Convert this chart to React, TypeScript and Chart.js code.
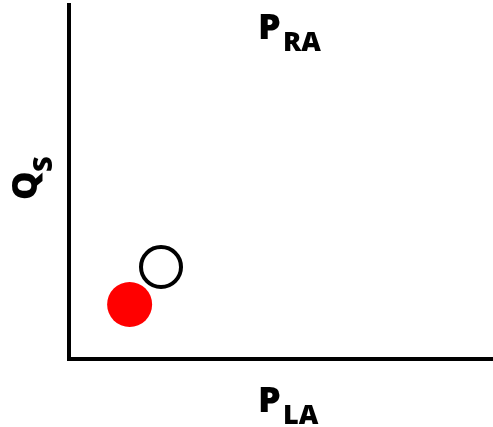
import React, { useEffect, useRef } from "react";
import { Chart, registerables } from "chart.js";

Chart.register(...registerables);

// Data (arbitrary units on both axes)
const X_RANGE = [0, 10];
const Y_RANGE = [0, 10];
const OPEN_POINT = [{ x: 2.17, y: 2.6 }];
const FILLED_POINT = [{ x: 1.43, y: 1.54 }];

// Labels: [main, subscript]
const TITLE_LABEL = ["P", "RA"];
const X_LABEL = ["P", "LA"];
const Y_LABEL = ["Q", "S"];

const FONT = '"Open Sans", "Liberation Sans", sans-serif';

function drawInk(ctx: CanvasRenderingContext2D, text: string, size: number, inkLeft: number, baseline: number) {
  ctx.font = `800 ${size}px ${FONT}`;
  ctx.textAlign = "left";
  ctx.textBaseline = "alphabetic";
  const m = ctx.measureText(text);
  ctx.fillText(text, inkLeft + m.actualBoundingBoxLeft, baseline);
}

const labelPlugin = {
  id: "subLabels",
  afterDraw(chart: any) {
    const ctx: CanvasRenderingContext2D = chart.ctx;
    ctx.save();
    ctx.fillStyle = "#000000";
    // Title P_RA
    drawInk(ctx, TITLE_LABEL[0], 36, 260, 39);
    drawInk(ctx, TITLE_LABEL[1], 27, 285, 51);
    // X label P_LA
    drawInk(ctx, X_LABEL[0], 36, 260, 412);
    drawInk(ctx, X_LABEL[1], 27, 285, 424);
    // Y label Q_S (rotated)
    ctx.save();
    ctx.rotate(-Math.PI / 2);
    drawInk(ctx, Y_LABEL[0], 36, -199, 37);
    drawInk(ctx, Y_LABEL[1], 27, -171, 52);
    ctx.restore();
    ctx.restore();
  },
};

export default function App() {
  const ref = useRef<HTMLCanvasElement | null>(null);

  useEffect(() => {
    if (!ref.current) return;
    const chart = new Chart(ref.current, {
      type: "scatter",
      data: {
        datasets: [
          {
            data: OPEN_POINT,
            pointBackgroundColor: "#ffffff",
            pointBorderColor: "#000000",
            pointBorderWidth: 4,
            pointRadius: 20,
            pointHoverRadius: 20,
            clip: false,
          } as any,
          {
            data: FILLED_POINT,
            pointBackgroundColor: "#ff0000",
            pointBorderColor: "#ff0000",
            pointBorderWidth: 0,
            pointRadius: 22.5,
            pointHoverRadius: 22.5,
            clip: false,
          } as any,
        ],
      },
      options: {
        responsive: false,
        animation: false,
        events: [],
        layout: {
          autoPadding: false,
          padding: { left: 69, top: 5, right: 0, bottom: 68 },
        },
        plugins: {
          legend: { display: false },
          tooltip: { enabled: false },
          title: { display: false },
        },
        scales: {
          x: {
            type: "linear",
            min: X_RANGE[0],
            max: X_RANGE[1],
            ticks: { display: false },
            grid: { display: false, drawTicks: false },
            border: { display: true, color: "#000000", width: 4 },
          },
          y: {
            type: "linear",
            min: Y_RANGE[0],
            max: Y_RANGE[1],
            ticks: { display: false },
            grid: { display: false, drawTicks: false },
            border: { display: true, color: "#000000", width: 4 },
          },
        },
      } as any,
      plugins: [labelPlugin],
    });
    return () => chart.destroy();
  }, []);

  return (
    <div style={{ position: "absolute", left: 0, top: 0, width: 493, height: 427, background: "#ffffff" }}>
      <canvas ref={ref} width={493} height={427} style={{ display: "block" }} />
    </div>
  );
}
